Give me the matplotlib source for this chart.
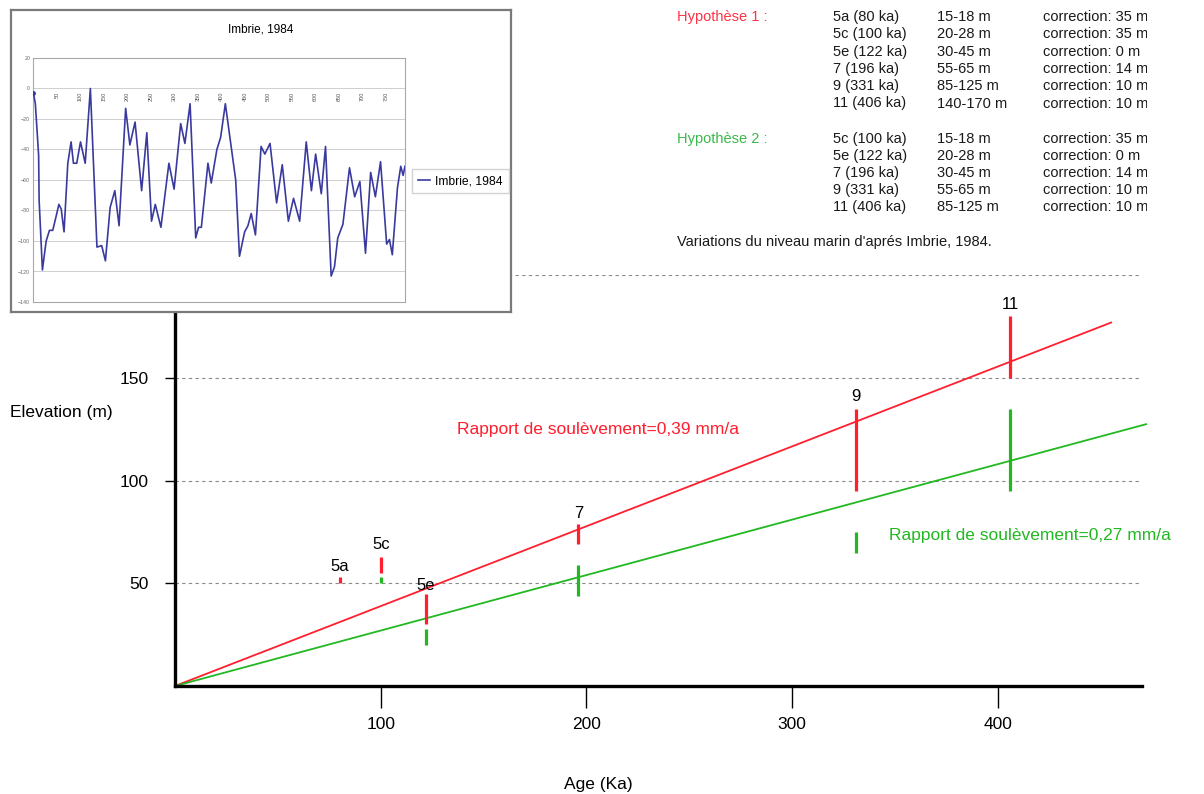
# Uplift rate chart with Imbrie (1984) sea-level inset

import matplotlib
matplotlib.use("Agg")
import matplotlib.pyplot as plt

W, H = 1204, 794
FONT = "Liberation Sans"
RED = "#ff1f2e"
GREEN = "#22b822"
BLUE = "#3a3a9e"
GRID = "#8a8a8a"
INK = "#1a1a1a"

plt.rcParams["font.family"] = [FONT, "DejaVu Sans"]

# ── Data ──────────────────────────────────────────────────────────────────────
stage_labels = ["5a", "5c", "5e", "7", "9", "11"]
stage_age = [80, 100, 122, 196, 331, 406]
stage_label_elev = [58, 69, 49, 84, 141, 186]

# hypothesis 1: terrace elevation + correction
h1_low = [50, 55, 30, 69, 95, 150]
h1_high = [53, 63, 45, 79, 135, 180]

# hypothesis 2
h2_age = [100, 122, 196, 331, 406]
h2_low = [50, 20, 44, 65, 95]
h2_high = [53, 28, 59, 75, 135]

# uplift lines
red_line_age = [0, 455]
red_line_elev = [0, 177]
green_line_age = [0, 472]
green_line_elev = [0, 127.5]

x_ticks = [100, 200, 300, 400]
y_ticks = [50, 100, 150]
y_grid = [50, 100, 150, 200]

# Imbrie 1984 sea-level curve (inset)
imbrie_age = [0, 4, 11, 12, 19, 27, 34, 41, 48, 54, 59, 65, 73, 80, 85, 92,
              100, 110, 121, 135, 145, 153, 163, 173, 182, 196, 205, 216, 230,
              241, 251, 259, 271, 288, 299, 313, 322, 333, 345, 351, 357, 371,
              378, 390, 398, 408, 430, 438, 449, 456, 463, 472, 484, 492, 503,
              517, 529, 542, 553, 566, 580, 591, 600, 612, 621, 633, 640, 647,
              658, 672, 683, 694, 706, 717, 727, 738, 751, 757, 763, 774, 781,
              786, 790]
imbrie_level = [-3, -10, -44, -73, -119, -100, -93, -93, -84, -76, -79, -94,
                -49, -35, -49, -49, -35, -49, 0, -104, -103, -113, -78, -67,
                -90, -13, -37, -22, -67, -29, -87, -76, -91, -49, -66, -23,
                -36, -10, -98, -91, -91, -49, -62, -40, -32, -10, -60, -110,
                -94, -90, -82, -96, -38, -43, -36, -75, -50, -87, -72, -87,
                -35, -67, -43, -69, -38, -123, -117, -98, -89, -52, -71, -61,
                -108, -55, -71, -48, -102, -99, -109, -65, -51, -57, -51]
inset_xlabels = [50, 100, 150, 200, 250, 300, 350, 400, 450, 500, 550, 600,
                 650, 700, 750]
inset_yticks = [20, 0, -20, -40, -60, -80, -100, -120, -140]

table_h1 = [("5a (80 ka)", "15-18 m", "correction: 35 m"),
            ("5c (100 ka)", "20-28 m", "correction: 35 m"),
            ("5e (122 ka)", "30-45 m", "correction: 0 m"),
            ("7 (196 ka)", "55-65 m", "correction: 14 m"),
            ("9 (331 ka)", "85-125 m", "correction: 10 m"),
            ("11 (406 ka)", "140-170 m", "correction: 10 m")]
table_h2 = [("5c (100 ka)", "15-18 m", "correction: 35 m"),
            ("5e (122 ka)", "20-28 m", "correction: 0 m"),
            ("7 (196 ka)", "30-45 m", "correction: 14 m"),
            ("9 (331 ka)", "55-65 m", "correction: 10 m"),
            ("11 (406 ka)", "85-125 m", "correction: 10 m")]


def frac(x0, y0, x1, y1):
    """pixel box (top-left origin) -> figure fraction rect"""
    return [x0 / W, 1 - y1 / H, (x1 - x0) / W, (y1 - y0) / H]


fig = plt.figure(figsize=(W / 100, H / 100), dpi=100, facecolor="white")

# ── Main chart ────────────────────────────────────────────────────────────────
ax = fig.add_axes(frac(175, 275.3, 1142, 686), zorder=1)
ax.set_xlim(0, 470)
ax.set_ylim(0, 200)
ax.patch.set_alpha(0)

for s in ("top", "right"):
    ax.spines[s].set_visible(False)
for s in ("left", "bottom"):
    ax.spines[s].set_linewidth(2.4)
    ax.spines[s].set_zorder(5)

for g in y_grid:
    ax.axhline(g, color=GRID, linewidth=0.8, linestyle=(0, (3, 3)), zorder=1)

ax.plot(red_line_age, red_line_elev, color=RED, linewidth=1.3, zorder=3,
        clip_on=False)
ax.plot(green_line_age, green_line_elev, color=GREEN, linewidth=1.3, zorder=3,
        clip_on=False)

ax.vlines(stage_age, h1_low, h1_high, color=RED, linewidth=2.3, zorder=4,
          clip_on=False)
ax.vlines(h2_age, h2_low, h2_high, color=GREEN, linewidth=2.3, zorder=4)

for lab, a, e in zip(stage_labels, stage_age, stage_label_elev):
    ax.text(a, e, lab, fontsize=12, ha="center", va="center", zorder=6,
            clip_on=False)

ax.set_xticks(x_ticks)
ax.set_yticks(y_ticks)
ax.tick_params(axis="x", direction="out", length=16, width=1, pad=6,
               labelsize=12.5)
ax.tick_params(axis="y", direction="out", length=7, width=1, pad=12,
               labelsize=12.5)

ax.text(137, 125, "Rapport de soulèvement=0,39 mm/a", color=RED,
        fontsize=12.5, ha="left", va="center")
ax.text(347, 73.5, "Rapport de soulèvement=0,27 mm/a", color=GREEN,
        fontsize=12.5, ha="left", va="center", clip_on=False)

fig.text(10 / W, 1 - 412 / H, "Elevation (m)", fontsize=12.5,
         ha="left", va="center")
fig.text(598 / W, 1 - 785 / H, "Age (Ka)", fontsize=12.5,
         ha="center", va="center")

# ── Top-right table ───────────────────────────────────────────────────────────
tab = fig.add_axes(frac(660, 0, 1147, 260), zorder=2)
tab.set_xlim(660, 1147)
tab.set_ylim(260, 0)
tab.axis("off")

cols = [833, 937, 1043]
tab.text(677, 17, "Hypothèse 1 :", color="#ff3347", fontsize=10.5,
         va="center")
for i, row in enumerate(table_h1):
    y = 17 + i * 17.3
    for c, t in zip(cols, row):
        tab.text(c, y, t, fontsize=10.5, color=INK, va="center", clip_on=True)
tab.text(677, 139, "Hypothèse 2 :", color="#3cb84a", fontsize=10.5,
         va="center")
for i, row in enumerate(table_h2):
    y = 139 + i * 17.1
    for c, t in zip(cols, row):
        tab.text(c, y, t, fontsize=10.5, color=INK, va="center", clip_on=True)
tab.text(677, 242, "Variations du niveau marin d'aprés Imbrie, 1984.",
         fontsize=10.5, color=INK, va="center")

# ── Inset: Imbrie 1984 ────────────────────────────────────────────────────────
box = fig.add_axes(frac(11, 10, 511, 312), zorder=5)
box.set_facecolor("white")
box.set_xticks([])
box.set_yticks([])
for sp in box.spines.values():
    sp.set_edgecolor("#7a7a7a")
    sp.set_linewidth(1.6)
box.text(0.5, 0.935, "Imbrie, 1984", transform=box.transAxes,
         ha="center", va="center", fontsize=8.5)

ins = fig.add_axes(frac(33, 58, 405, 302), zorder=6)
ins.set_facecolor("white")
ins.set_xlim(-1, 790)
ins.set_ylim(-140, 20)
for sp in ins.spines.values():
    sp.set_edgecolor("#a8a8a8")
    sp.set_linewidth(0.8)
for g in inset_yticks[1:-1]:
    ins.axhline(g, color="#cfcfcf", linewidth=0.7, zorder=1)
ins.plot(imbrie_age, imbrie_level, color=BLUE, linewidth=1.2, zorder=3,
         label="Imbrie, 1984", solid_joinstyle="round")
ins.plot(imbrie_age[0], imbrie_level[0], "o", color=BLUE, markersize=2.5,
         zorder=4)
ins.set_xticks([])
ins.set_yticks(inset_yticks)
ins.tick_params(axis="y", length=0, pad=2, labelsize=3.8, labelcolor="#666666")
for v in inset_xlabels:
    ins.text(v, -2, str(v), rotation=90, fontsize=4, color="#555555",
             ha="center", va="top", zorder=2)

ins.legend(loc="center left", bbox_to_anchor=(412 / W, 1 - 181 / H),
           bbox_transform=fig.transFigure, fontsize=8.7, frameon=True,
           fancybox=False, edgecolor="#c8c8c8", handlelength=1.0,
           handletextpad=0.4, borderpad=0.5, borderaxespad=0)

fig.savefig("out.png", dpi=100, facecolor="white")
